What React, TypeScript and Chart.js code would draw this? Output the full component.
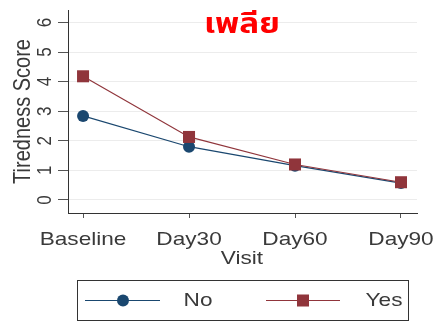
import React, { useEffect, useRef } from "react";
import { Chart, registerables } from "chart.js";

Chart.register(...registerables);

const visits = ["Baseline", "Day30", "Day60", "Day90"];
const noValues = [2.84, 1.8, 1.16, 0.57];
const yesValues = [4.18, 2.13, 1.2, 0.6];
const yTickValues = [0, 1, 2, 3, 4, 5, 6];
const seriesNames = ["No", "Yes"];
const titleText = "เพลีย";
const yTitle = "Tiredness Score";
const xTitle = "Visit";

const BLUE = "#1a476f";
const RED = "#90353b";
const TEXT = "#3a3a3a";
const FONT = "'Liberation Sans', Arial, sans-serif";
const THAI_FONT = "'Noto Sans Thai', 'Noto Sans Thai UI', 'Garuda', 'Loma', 'Tlwg Typo', 'Norasi', 'DejaVu Sans', sans-serif";
const SX = 1.19;

function drawText(
  ctx: CanvasRenderingContext2D,
  text: string,
  x: number,
  y: number,
  size: number,
  color: string,
  rotate = false,
  font = FONT,
  bold = false
) {
  ctx.save();
  ctx.translate(x, y);
  ctx.scale(SX, 1);
  if (rotate) ctx.rotate(-Math.PI / 2);
  ctx.font = `${bold ? "bold " : ""}${size}px ${font}`;
  ctx.fillStyle = color;
  ctx.textAlign = "center";
  ctx.textBaseline = "middle";
  ctx.fillText(text, 0, 0);
  ctx.restore();
}

const textPlugin = {
  id: "stataText",
  afterDraw(chart: any) {
    const ctx: CanvasRenderingContext2D = chart.ctx;
    const yScale = chart.scales.y;
    const xScale = chart.scales.x;
    const area = chart.chartArea;

    // y tick labels (rotated)
    yTickValues.forEach((v) => {
      drawText(ctx, String(v), 45, yScale.getPixelForValue(v), 17, TEXT, true);
    });
    // y title
    drawText(ctx, yTitle, 23, (area.top + area.bottom) / 2, 20, TEXT, true);

    // x tick labels
    visits.forEach((label, i) => {
      drawText(ctx, label, xScale.getPixelForValue(i), 240, 19, TEXT);
    });
    // x title
    drawText(ctx, xTitle, (area.left + area.right) / 2 - 0.5, 259, 19, TEXT);

    // main title
    drawText(ctx, titleText, 242, 27, 28, "#ff0000", false, THAI_FONT, true);

    // legend
    ctx.save();
    ctx.strokeStyle = "#333333";
    ctx.lineWidth = 1;
    ctx.strokeRect(77.5, 280.5, 331, 40);
    const ly = 300.5;
    // No
    ctx.strokeStyle = BLUE;
    ctx.lineWidth = 1.2;
    ctx.beginPath();
    ctx.moveTo(85, ly);
    ctx.lineTo(160, ly);
    ctx.stroke();
    ctx.fillStyle = BLUE;
    ctx.beginPath();
    ctx.arc(123, ly, 6, 0, Math.PI * 2);
    ctx.fill();
    // Yes
    ctx.strokeStyle = RED;
    ctx.beginPath();
    ctx.moveTo(266, ly);
    ctx.lineTo(340, ly);
    ctx.stroke();
    ctx.fillStyle = RED;
    ctx.fillRect(297, ly - 6, 12, 12);
    ctx.restore();
    drawText(ctx, seriesNames[0], 198, ly, 19, TEXT);
    drawText(ctx, seriesNames[1], 384, ly, 19, TEXT);
  },
};

export default function App() {
  const canvasRef = useRef<HTMLCanvasElement | null>(null);

  useEffect(() => {
    if (!canvasRef.current) return;
    const chart = new Chart(canvasRef.current, {
      type: "line",
      data: {
        datasets: [
          {
            label: seriesNames[0],
            data: visits.map((_, i) => ({ x: i, y: noValues[i] })),
            borderColor: BLUE,
            backgroundColor: BLUE,
            borderWidth: 1.2,
            pointStyle: "circle",
            pointRadius: 6,
            pointBorderWidth: 0,
            order: 1,
          },
          {
            label: seriesNames[1],
            data: visits.map((_, i) => ({ x: i, y: yesValues[i] })),
            borderColor: RED,
            backgroundColor: RED,
            borderWidth: 1.2,
            pointStyle: "rect",
            pointRadius: 8.5,
            pointBorderWidth: 0,
            order: 0,
          },
        ],
      },
      options: {
        responsive: false,
        animation: false,
        events: [],
        layout: { padding: { top: 10, right: 19, left: 0, bottom: 0 } },
        plugins: {
          legend: { display: false },
          tooltip: { enabled: false },
          title: { display: false },
        },
        scales: {
          x: {
            type: "linear",
            min: -0.142,
            max: 3.151,
            afterBuildTicks: (scale: any) => {
              scale.ticks = visits.map((_, i) => ({ value: i }));
            },
            afterFit: (scale: any) => {
              scale.height = 111;
            },
            ticks: { display: false },
            grid: {
              drawOnChartArea: false,
              drawTicks: true,
              tickLength: 5,
              tickColor: "#555555",
            },
            border: { display: true, color: "#333333", width: 1 },
          },
          y: {
            type: "linear",
            min: -0.44,
            max: 6.42,
            afterBuildTicks: (scale: any) => {
              scale.ticks = yTickValues.map((v) => ({ value: v }));
            },
            afterFit: (scale: any) => {
              scale.width = 68;
            },
            ticks: { display: false },
            grid: {
              color: "#ececec",
              lineWidth: 1,
              drawTicks: true,
              tickLength: 10,
              tickColor: "#555555",
            },
            border: { display: true, color: "#333333", width: 1 },
          },
        },
      },
      plugins: [textPlugin],
    });
    return () => chart.destroy();
  }, []);

  return (
    <div style={{ position: "fixed", left: 0, top: 0, width: 436, height: 324, background: "#ffffff" }}>
      <canvas ref={canvasRef} width={436} height={324} />
    </div>
  );
}
